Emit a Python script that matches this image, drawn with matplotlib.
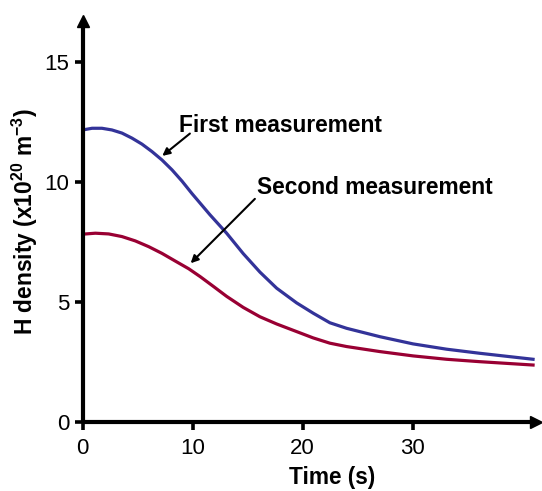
import matplotlib
matplotlib.use("Agg")
import matplotlib.pyplot as plt

plt.rcParams['font.family'] = ['Liberation Sans', 'DejaVu Sans']
plt.rcParams['mathtext.default'] = 'regular'

# Data
time_first = [0.0, 0.85, 1.75, 2.66, 3.57, 4.48, 5.39, 6.3, 7.21, 8.12, 9.03, 9.94,
              11.57, 13.09, 14.6, 16.12, 17.64, 19.45, 20.96, 22.48, 24.0, 27.03,
              30.05, 33.09, 36.1, 40.96]
dens_first = [12.15, 12.22, 12.22, 12.15, 12.02, 11.81, 11.56, 11.25, 10.9, 10.49, 10.02, 9.5,
              8.62, 7.85, 7.0, 6.23, 5.56, 4.95, 4.52, 4.12, 3.89, 3.54,
              3.24, 3.02, 2.85, 2.6]
time_second = [0.0, 1.15, 2.36, 3.57, 4.78, 6.0, 7.21, 8.42, 9.64, 10.69, 11.9, 13.09, 14.6,
               16.12, 17.64, 19.3, 20.96, 22.48, 24.0, 27.03, 30.05, 33.09, 36.1, 40.96]
dens_second = [7.81, 7.85, 7.82, 7.71, 7.53, 7.29, 7.01, 6.69, 6.37, 6.04, 5.63, 5.22, 4.76,
               4.37, 4.07, 3.78, 3.49, 3.27, 3.13, 2.92, 2.74, 2.6, 2.5, 2.36]
x_ticks = [0, 10, 20, 30]
y_ticks = [0, 5, 10, 15]

fig = plt.figure(figsize=(5.42, 4.91), dpi=100)
ax = fig.add_axes([82.7/542, 69.3/491, 453/542, 401/491])

ax.plot(time_first, dens_first, color='#333399', lw=2.3, solid_joinstyle='round')
ax.plot(time_second, dens_second, color='#990033', lw=2.3, solid_joinstyle='round')

ax.set_xlim(0, 41.2)
ax.set_ylim(0, 16.7)
ax.set_xticks(x_ticks)
ax.set_yticks(y_ticks)
ax.tick_params(direction='out', length=5.5, width=2.6, labelsize=16)
ax.tick_params(axis='x', pad=6)
ax.tick_params(axis='y', pad=4)

for s in ['top', 'right']:
    ax.spines[s].set_visible(False)
for s in ['left', 'bottom']:
    ax.spines[s].set_linewidth(3.0)
    ax.spines[s].set_capstyle('butt')

ax.plot(1, 0, '>', color='k', ms=9, transform=ax.get_yaxis_transform(), clip_on=False)
ax.plot(0, 1, '^', color='k', ms=9, transform=ax.get_xaxis_transform(), clip_on=False)

ax.set_xlabel('Time (s)', fontsize=16.3, fontweight='bold', labelpad=5)
ax.xaxis.label.set_x(0.55)
ax.set_ylabel('H density (x10$^{20}$ m$^{-3}$)', fontsize=16.4, fontweight='bold', labelpad=3)

arrow = dict(arrowstyle='-|>', color='k', lw=1.5, mutation_scale=11, shrinkA=0, shrinkB=0)
ax.annotate('', xy=(7.24, 11.07), xytext=(9.75, 12.0), arrowprops=arrow)
ax.annotate('', xy=(9.82, 6.6), xytext=(15.66, 9.28), arrowprops=arrow)
ax.text(8.75, 12.32, 'First measurement', fontsize=16.4, fontweight='bold', va='center', ha='left')
ax.text(15.87, 9.74, 'Second measurement', fontsize=16.4, fontweight='bold', va='center', ha='left')

fig.savefig('out.png', dpi=100)
